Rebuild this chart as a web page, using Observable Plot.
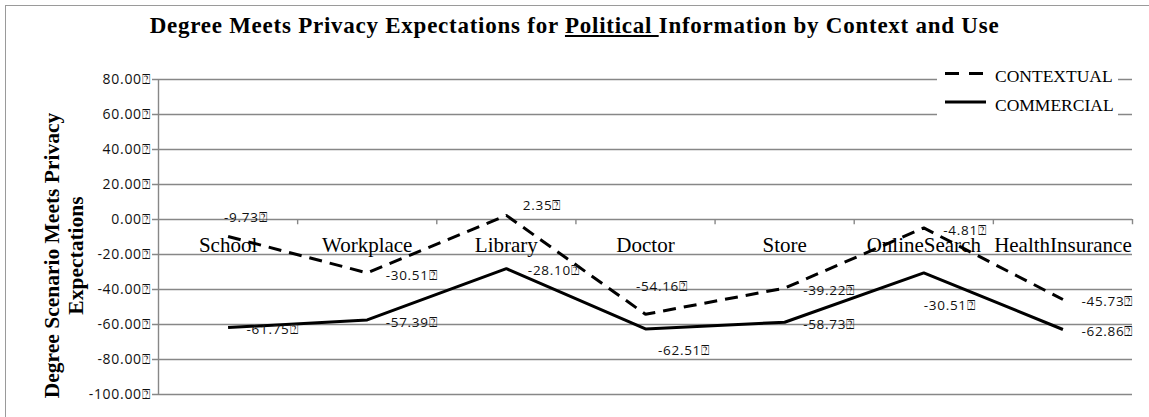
<!DOCTYPE html>
<html>
<head>
<meta charset="utf-8">
<script src="https://cdn.jsdelivr.net/npm/d3@7"></script>
<script src="https://cdn.jsdelivr.net/npm/@observablehq/plot@0.6"></script>
<style>
  html, body { margin: 0; padding: 0; background: #fff; }
  #wrap { position: relative; width: 1149px; height: 417px; overflow: hidden; background: #fff; }
  #frame { position: absolute; left: 5px; top: 5px; width: 1200px; height: 500px;
           border-left: 1.5px solid #9a9a9a; border-top: 1.5px solid #9a9a9a; }
  #title { position: absolute; left: 0; top: 14px; width: 1149px; text-align: center;
           font-family: "Liberation Serif", serif; font-weight: bold; font-size: 23px;
           line-height: 23px; letter-spacing: 0.75px; color: #000; white-space: nowrap; }
  #chart { position: absolute; left: 0; top: 0; }
  #legend { position: absolute; left: 0; top: 0; }
  #chart g[font-family="Open Sans"] text { letter-spacing: 0.7px; }
</style>
</head>
<body>
<div id="wrap">
  <div id="frame"></div>
  <div id="chart"></div>
  <svg id="legend" width="1149" height="417"></svg>
  <div id="title">Degree Meets Privacy Expectations for <u>Political </u>Information by Context and Use</div>
</div>
<script>
// ---- data ----
const categories = ["School", "Workplace", "Library", "Doctor", "Store", "OnlineSearch", "HealthInsurance"];
const contextual = [-9.73, -30.51, 2.35, -54.16, -39.22, -4.81, -45.73];
const commercial = [-61.75, -57.39, -28.10, -62.51, -58.73, -30.51, -62.86];
const seriesNames = ["CONTEXTUAL", "COMMERCIAL"];
const yTicks = [80, 60, 40, 20, 0, -20, -40, -60, -80, -100];
const yTitle = "Degree Scenario Meets Privacy\nExpectations";

// ---- styling / label placement (pixel offsets) ----
const gridColor = "#878787";
const labelOffsets = {
  "CONTEXTUAL|School": [-4, -19],
  "CONTEXTUAL|Library": [16.5, -10],
  "CONTEXTUAL|Doctor": [-9.5, -28],
  "CONTEXTUAL|OnlineSearch": [19.5, 3],
  "COMMERCIAL|Library": [21.5, 2],
  "COMMERCIAL|Doctor": [12.5, 22],
  "COMMERCIAL|OnlineSearch": [0, 33]
};
const defaultOffset = [18.5, 2.5];
const dashes = {CONTEXTUAL: "13,8", COMMERCIAL: null};

const rows = [];
categories.forEach((c, i) => {
  rows.push({series: seriesNames[0], cat: c, i, value: contextual[i]});
  rows.push({series: seriesNames[1], cat: c, i, value: commercial[i]});
});
const pos = d => d.i + 0.5;
const fmt = v => v.toFixed(2) + "\u2370";

const labelMarks = rows.map(d => {
  const [dx, dy] = labelOffsets[d.series + "|" + d.cat] || defaultOffset;
  return Plot.text([d], {
    x: pos, y: "value", text: r => fmt(r.value), dx, dy,
    textAnchor: "start", lineAnchor: "middle",
    fontFamily: "Open Sans", fontSize: 13.5, fill: "#111"
  });
});

const lineMarks = seriesNames.map(s => Plot.line(rows.filter(r => r.series === s), {
  x: pos, y: "value", stroke: "#000", strokeWidth: 3,
  strokeDasharray: dashes[s] || undefined, strokeLinejoin: "miter", strokeLinecap: "butt"
}));

const chart = Plot.plot({
  width: 1149, height: 417,
  marginLeft: 158, marginRight: 17, marginTop: 79, marginBottom: 23,
  x: {domain: [0, categories.length], axis: null},
  y: {domain: [-100, 80], axis: null},
  style: {background: "transparent", overflow: "visible"},
  marks: [
    Plot.ruleY(yTicks, {x1: 0, x2: categories.length, insetLeft: -6, stroke: gridColor, strokeWidth: 1.4}),
    Plot.ruleX([0], {y1: -100, y2: 80, stroke: gridColor, strokeWidth: 1.4}),
    Plot.ruleX(d3.range(1, categories.length + 1), {y1: 0, y2: -3, stroke: gridColor, strokeWidth: 1.4}),
    Plot.text(yTicks, {y: d => d, frameAnchor: "left", dx: -8, text: fmt, textAnchor: "end",
      lineAnchor: "middle", fontFamily: "Open Sans", fontSize: 14, fill: "#111"}),
    Plot.text(categories, {x: (d, i) => i + 0.5, y: () => 0, text: d => d, dy: 26,
      lineAnchor: "middle", fontFamily: "Liberation Serif", fontSize: 21, fill: "#000"}),
    Plot.text([yTitle], {text: d => d, frameAnchor: "left", rotate: -90, dx: -95, dy: 18.5,
      textAnchor: "middle", lineAnchor: "middle", lineHeight: 1.1,
      fontFamily: "Liberation Serif", fontWeight: "bold", fontSize: 21.5, fill: "#000"}),
    ...lineMarks,
    ...labelMarks
  ]
});
document.getElementById("chart").appendChild(chart);

// ---- legend (white box over the top gridlines) ----
const lg = d3.select("#legend");
lg.append("rect").attr("x", 937).attr("y", 62).attr("width", 181).attr("height", 60).attr("fill", "#fff");
const legendRows = [{name: seriesNames[0], y: 73.5}, {name: seriesNames[1], y: 102}];
legendRows.forEach(r => {
  lg.append("line").attr("x1", 945).attr("x2", 986).attr("y1", r.y).attr("y2", r.y)
    .attr("stroke", "#000").attr("stroke-width", 3)
    .attr("stroke-dasharray", r.name === "CONTEXTUAL" ? "14,10" : null);
  lg.append("text").attr("x", 995).attr("y", r.y + 8.5).text(r.name)
    .attr("font-family", "Liberation Serif").attr("font-size", 17.5).attr("fill", "#000");
});
</script>
</body>
</html>
